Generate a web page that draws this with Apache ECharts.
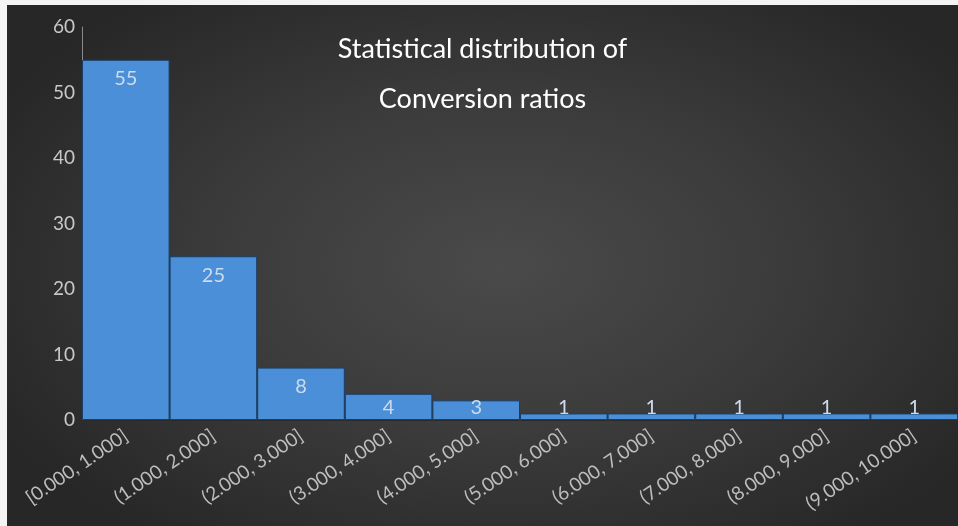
<!DOCTYPE html>
<html>
<head>
<meta charset="utf-8">
<script src="https://cdn.jsdelivr.net/npm/echarts@6/dist/echarts.min.js"></script>
<style>
  html, body { margin: 0; padding: 0; background: #f4f4f4; width: 958px; height: 526px; overflow: hidden; }
  #chart {
    position: absolute; left: 7px; top: 5px; width: 951px; height: 521px;
    background: radial-gradient(ellipse 60% 65% at 52% 50%, #4a4a4a 0%, #3b3b3b 50%, #272727 100%);
  }
</style>
</head>
<body>
<div id="chart"></div>
<script>
const titleLines = ["Statistical distribution of", "Conversion ratios"];
const categories = ["[0.000, 1.000]", "(1.000, 2.000]", "(2.000, 3.000]", "(3.000, 4.000]", "(4.000, 5.000]",
                    "(5.000, 6.000]", "(6.000, 7.000]", "(7.000, 8.000]", "(8.000, 9.000]", "(9.000, 10.000]"];
const counts = [55, 25, 8, 4, 3, 1, 1, 1, 1, 1];
const yTicks = { min: 0, max: 60, interval: 10 };

const chart = echarts.init(document.getElementById('chart'), null, { renderer: 'canvas' });
const font = 'Lato, "Open Sans", sans-serif';
chart.setOption({
  backgroundColor: 'transparent',
  animation: false,
  title: {
    text: titleLines.join('\n'),
    left: 'center',
    top: 14,
    textStyle: { color: '#ffffff', fontSize: 27, fontWeight: 'normal', fontFamily: font, lineHeight: 50 }
  },
  grid: { left: 75, top: 22, width: 878, height: 393, containLabel: false },
  xAxis: {
    type: 'category',
    data: categories,
    axisLine: { show: true, lineStyle: { color: '#2a2a2a' } },
    axisTick: { show: false },
    axisLabel: { rotate: 34, color: '#bdbdbd', fontSize: 19, fontFamily: font, margin: 14, interval: 0 }
  },
  yAxis: {
    type: 'value',
    min: yTicks.min, max: yTicks.max, interval: yTicks.interval,
    axisLine: { show: true, lineStyle: { color: '#8a8a8a', width: 1 } },
    axisTick: { show: false },
    splitLine: { show: false },
    axisLabel: { color: '#c8c8c8', fontSize: 19, fontFamily: font, margin: 7 }
  },
  series: [{
    type: 'bar',
    barCategoryGap: 0,
    data: counts.map(v => v < 5
      ? { value: v, label: { position: 'insideBottom', distance: 2 } }
      : { value: v }),
    itemStyle: { color: '#4a8fd7', borderColor: '#1c3e66', borderWidth: 1 },
    label: { show: true, position: 'insideTop', distance: 9, color: '#cddcec', fontSize: 20, fontFamily: font }
  }]
});
</script>
</body>
</html>
